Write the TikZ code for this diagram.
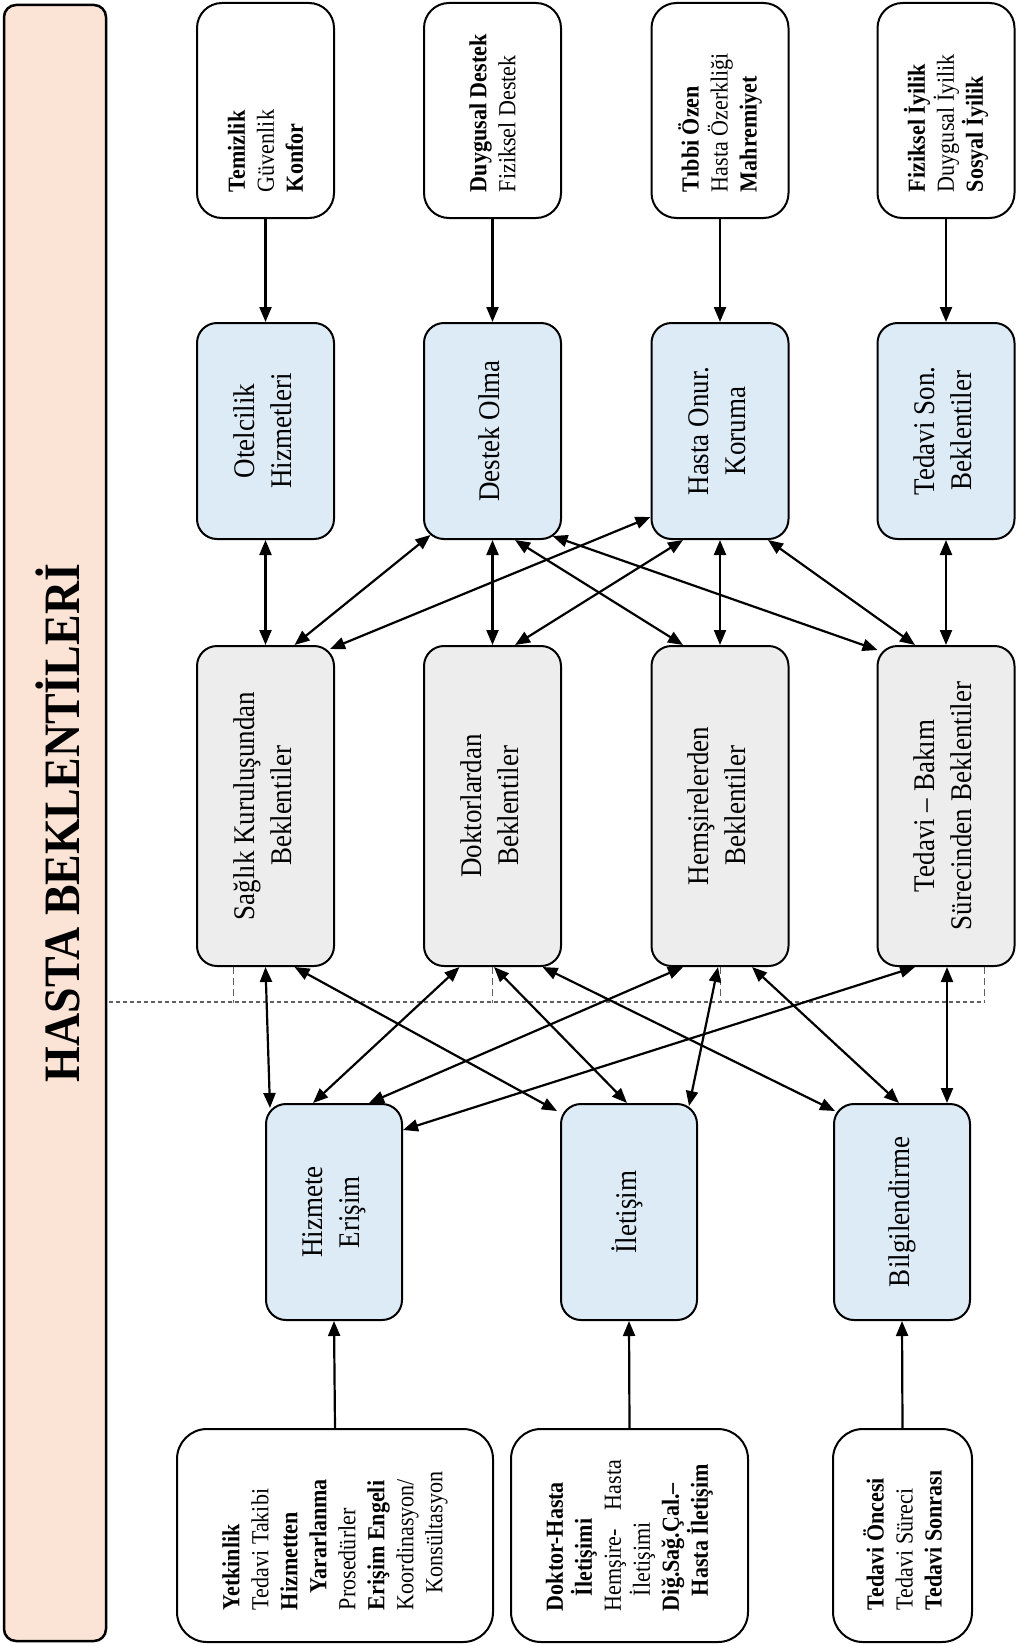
\documentclass[tikz,border=0pt]{standalone}
\usepackage{fontspec}
\setmainfont{Liberation Serif}[FakeStretch=0.9]
\usetikzlibrary{arrows.meta,calc}
\definecolor{peach}{HTML}{FBE4D5}
\definecolor{lblue}{HTML}{DDEBF7}
\definecolor{lgray}{HTML}{EDEDED}
\definecolor{dgray}{HTML}{606060}
\begin{document}
\begin{tikzpicture}[x=1pt,y=-1pt,
  box/.style={draw=black, line width=2pt, rounded corners=20pt, inner sep=0pt, align=center},
  wtop/.style={box, fill=white, rounded corners=25pt, minimum width=137pt, minimum height=215pt, font=\fontsize{24.5}{29}\selectfont},
  wbot/.style={box, fill=white, rounded corners=30pt, minimum height=213pt, font=\fontsize{24.5}{29}\selectfont},
  bbox/.style={box, fill=lblue, minimum height=216pt, font=\fontsize{30}{37}\selectfont},
  gbox/.style={box, fill=lgray, minimum width=137pt, minimum height=320pt, font=\fontsize{30}{37}\selectfont},
  tip/.tip={Triangle[length=15pt,width=12pt]},
  arr/.style={line width=2.2pt, -tip},
  darr/.style={line width=2.2pt, tip-tip},
  hdash/.style={dgray, line width=2pt, dash pattern=on 4pt off 3pt},
  vdash/.style={dgray, line width=1pt, dash pattern=on 7pt off 4pt},
]
\useasboundingbox (0,0) rectangle (1015,1646);

% banner
\node[rotate=90, draw=black, line width=2.5pt, fill=peach, rounded corners=12pt,
      minimum width=1636pt, minimum height=102pt, inner sep=0pt,
      text height=49pt, text depth=0pt,
      font=\fontsize{51}{60}\selectfont\bfseries] (banner) at (55,823) {HASTA BEKLENTİLERİ};

% row 1
\node[wtop] (w1) at (265.5,110.5) {\rotatebox{90}{\parbox{163pt}{\raggedright\textbf{Temizlik}\\Güvenlik\\\textbf{Konfor}}}};
\node[wtop] (w2) at (492.5,110.5) {\rotatebox{90}{\parbox{163pt}{\raggedright\textbf{Duygusal Destek}\\Fiziksel Destek}}};
\node[wtop] (w3) at (720,110.5) {\rotatebox{90}{\parbox{163pt}{\raggedright\textbf{Tıbbi Özen}\\Hasta Özerkliği\\\textbf{Mahremiyet}}}};
\node[wtop] (w4) at (946,110.5) {\rotatebox{90}{\parbox{163pt}{\raggedright\textbf{Fiziksel İyilik}\\Duygusal İyilik\\\textbf{Sosyal İyilik}}}};

% row 2
\node[bbox, minimum width=137pt] (b1) at (265.5,431) {\rotatebox{90}{\begin{tabular}{c}Otelcilik\\Hizmetleri\end{tabular}}};
\node[bbox, minimum width=137pt] (b2) at (492.5,431) {\rotatebox{90}{\begin{tabular}{c}Destek Olma\end{tabular}}};
\node[bbox, minimum width=137pt] (b3) at (720,431) {\rotatebox{90}{\begin{tabular}{c}Hasta Onur.\\Koruma\end{tabular}}};
\node[bbox, minimum width=137pt] (b4) at (946,431) {\rotatebox{90}{\begin{tabular}{c}Tedavi Son.\\Beklentiler\end{tabular}}};

% row 3
\node[gbox] (g1) at (265.5,806) {\rotatebox{90}{\begin{tabular}{c}Sağlık Kuruluşundan\\Beklentiler\end{tabular}}};
\node[gbox] (g2) at (492.5,806) {\rotatebox{90}{\begin{tabular}{c}Doktorlardan\\Beklentiler\end{tabular}}};
\node[gbox] (g3) at (720,806) {\rotatebox{90}{\begin{tabular}{c}Hemşirelerden\\Beklentiler\end{tabular}}};
\node[gbox] (g4) at (946,806) {\rotatebox{90}{\begin{tabular}{c}Tedavi – Bakım\\Sürecinden Beklentiler\end{tabular}}};

% row 4
\node[bbox, minimum width=136pt] (c1) at (334,1212) {\rotatebox{90}{\begin{tabular}{c}Hizmete\\Erişim\end{tabular}}};
\node[bbox, minimum width=136pt] (c2) at (629,1212) {\rotatebox{90}{\begin{tabular}{c}İletişim\end{tabular}}};
\node[bbox, minimum width=136pt] (c3) at (902,1212) {\rotatebox{90}{\begin{tabular}{c}Bilgilendirme\end{tabular}}};

% row 5
\node[wbot, minimum width=316pt] (d1) at (335,1535.5) {\rotatebox{90}{\parbox{149pt}{\raggedright
  \textbf{Yetkinlik}\\
  Tedavi Takibi\\
  \textbf{Hizmetten}\\
  \hspace*{17pt}\textbf{Yararlanma}\\
  Prosedürler\\
  \textbf{Erişim Engeli}\\
  Koordinasyon/\\
  \hspace*{17pt}Konsültasyon}}};
\node[wbot, minimum width=237pt] (d2) at (629.5,1535.5) {\rotatebox{90}{\parbox{151pt}{\raggedright
  \textbf{Doktor-Hasta}\\
  \hspace*{15pt}\textbf{İletişimi}\\
  Hemşire-\hfill Hasta\\
  \hspace*{15pt}İletişimi\\
  \textbf{Diğ.Sağ.Çal.–}\\
  \hspace*{15pt}\textbf{Hasta İletişim}}}};
\node[wbot, minimum width=139pt] (d3) at (902.5,1535.5) {\rotatebox{90}{\parbox{149pt}{\raggedright
  \textbf{Tedavi Öncesi}\\
  Tedavi Süreci\\
  \textbf{Tedavi Sonrası}}}};

% dashed separator
\coordinate (dl) at (109,1002);
\coordinate (dr) at (984,1002);
\draw[hdash] (dl) -- (dr);
\draw[vdash] ([xshift=-32.5pt]g1.south) -- ++(0,36);
\draw[vdash] (g2.south) -- ++(0,36);
\draw[vdash] (g3.south) -- ++(0,36);
\draw[vdash] ([xshift=38pt]g4.south) -- ++(0,36);

% row 1 -> row 2
\foreach \i in {1,2,3,4} {\draw[arr] (w\i.south) -- (b\i.north);}
% row 5 -> row 4
\foreach \i in {1,2,3} {\draw[arr] (d\i.north) -- (c\i.south);}

% row 2 <-> row 3
\foreach \i in {1,2,3,4} {\draw[darr] (b\i.south) -- (g\i.north);}
\draw[darr] ([xshift=-62pt,yshift=5pt]b2.south) -- ([xshift=29pt]g1.north);
\draw[darr] ([yshift=-86pt]b3.west) -- ([xshift=-5pt,yshift=-4pt]g1.north east);
\draw[darr] ([xshift=22.5pt]b2.south) -- ([xshift=-37pt]g3.north);
\draw[darr] ([xshift=60pt,yshift=4pt]b2.south) -- ([xshift=1pt,yshift=-5pt]g4.north west);
\draw[darr] ([xshift=-37pt]b3.south) -- ([xshift=22.5pt]g2.north);
\draw[darr] ([xshift=48pt]b3.south) -- ([xshift=-31pt]g4.north);

% row 3 <-> row 4
\draw[darr] (g1.south) -- ([xshift=-64pt,yshift=-5pt]c1.north);
\draw[darr] ([xshift=29pt]g1.south) -- ([xshift=-3pt,yshift=-8pt]c2.north west);
\draw[darr] ([xshift=-33pt]g2.south) -- ([xshift=-21pt]c1.north);
\draw[darr] ([xshift=1.5pt]g2.south) -- ([xshift=-2pt]c2.north);
\draw[darr] ([xshift=50pt]g2.south) -- ([xshift=2pt,yshift=-8pt]c3.north west);
\draw[darr] ([xshift=-37pt]g3.south) -- ([xshift=35pt]c1.north);
\draw[darr] ([xshift=-2pt]g3.south) -- ([xshift=60pt,yshift=-3pt]c2.north);
\draw[darr] ([xshift=32pt]g3.south) -- ([xshift=-3pt]c3.north);
\draw[darr] ([xshift=-31pt]g4.south) -- ([yshift=82pt]c1.east);
\draw[darr] ([xshift=1pt]g4.south) -- ([xshift=45pt]c3.north);
\end{tikzpicture}
\end{document}
